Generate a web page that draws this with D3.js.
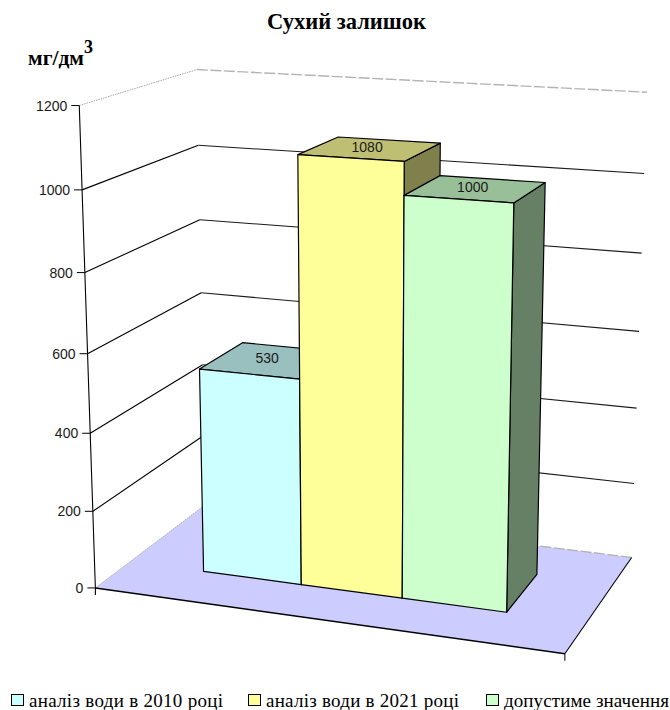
<!DOCTYPE html>
<html lang="uk">
<head>
<meta charset="utf-8">
<title>Сухий залишок</title>
<script src="https://cdn.jsdelivr.net/npm/d3@7"></script>
<style>
  html, body { margin: 0; padding: 0; background: #fff; }
  svg { display: block; }
</style>
</head>
<body>
<svg id="chart" width="670" height="710"></svg>
<script>
// Chart content
const chartTitle = "Сухий залишок";
const unitLabel = "мг/дм";
const unitPower = "3";
const seriesNames = ["аналіз води в 2010 році", "аналіз води в 2021 році", "допустиме значення"];
const seriesValues = [530, 1080, 1000];
const seriesFront = ["#CCFFFF", "#FFFF99", "#CCFFCC"];
const seriesTop = ["#99BFBF", "#BFBF73", "#99BF99"];
const seriesSide = ["#668080", "#80804D", "#668066"];
const valueTicks = [0, 200, 400, 600, 800, 1000, 1200];

const svg = d3.select("#chart");

// Box coordinates: x and z run 0..1, the value axis runs through a scale.
const yUnit = d3.scaleLinear().domain([0, 1200]).range([0, 1]);
const xBand = d3.scaleBand().domain(seriesNames).range([0.171, 0.836]);
const BAR_NEAR = 0.295, BAR_FAR = 0.70;

// Where the box edges fall on the page: [x, value, z, pageX, pageY].
const frameAnchors = [
  [0, 0, 0, 96, 588], [0, 200, 0, 92.5, 511], [0, 400, 0, 90, 433], [0, 600, 0, 87.5, 354],
  [0, 800, 0, 85, 272], [0, 1000, 0, 82, 190], [0, 1200, 0, 79, 106],
  [0, 0, 1, 205, 505], [0, 800, 1, 200, 220], [0, 1000, 1, 198.5, 145.5], [0, 1200, 1, 197, 69],
  [1, 0, 1, 632, 557], [1, 200, 1, 634, 484], [1, 400, 1, 636, 408], [1, 600, 1, 639, 331],
  [1, 800, 1, 642, 253], [1, 1000, 1, 644, 174], [1, 1200, 1, 647, 92],
  [1, 0, 0, 565, 654]
];

// Least-squares fit of a 3x4 camera matrix (bottom-right entry fixed at 1).
function fitCamera(anchors) {
  const n = 11;
  const A = d3.range(n).map(() => new Array(n + 1).fill(0));
  const addRow = (row, rhs) => {
    for (let i = 0; i < n; i++) {
      for (let j = 0; j < n; j++) A[i][j] += row[i] * row[j];
      A[i][n] += row[i] * rhs;
    }
  };
  anchors.forEach(([x, v, z, u, w]) => {
    const y = yUnit(v);
    addRow([x, y, z, 1, 0, 0, 0, 0, -u * x, -u * y, -u * z], u);
    addRow([0, 0, 0, 0, x, y, z, 1, -w * x, -w * y, -w * z], w);
  });
  for (let c = 0; c < n; c++) {
    let pivot = c;
    for (let r = c + 1; r < n; r++) if (Math.abs(A[r][c]) > Math.abs(A[pivot][c])) pivot = r;
    [A[c], A[pivot]] = [A[pivot], A[c]];
    for (let r = 0; r < n; r++) {
      if (r === c) continue;
      const f = A[r][c] / A[c][c];
      for (let k = c; k <= n; k++) A[r][k] -= f * A[c][k];
    }
  }
  return A.map((row, i) => row[n] / row[i]);
}

const cam = fitCamera(frameAnchors);
function project(x, value, z) {
  const y = yUnit(value);
  const d = cam[8] * x + cam[9] * y + cam[10] * z + 1;
  return [
    (cam[0] * x + cam[1] * y + cam[2] * z + cam[3]) / d,
    (cam[4] * x + cam[5] * y + cam[6] * z + cam[7]) / d
  ];
}

const polyline = d3.line();
const closedPath = pts => polyline(pts) + "Z";

// Floor
svg.append("path")
  .attr("d", closedPath([project(0, 0, 0), project(1, 0, 0), project(1, 0, 1), project(0, 0, 1)]))
  .attr("fill", "#CCCCFF");

// Gridlines on the left and back walls; the outer ones are drawn in grey.
const gridLayer = svg.append("g").attr("fill", "none");
valueTicks.forEach(v => {
  const muted = v === 1200 || v === 0;
  gridLayer.append("path")
    .attr("d", polyline([project(0, v, 0), project(0, v, 1)]))
    .attr("stroke", muted ? "#a8a8a8" : "#000")
    .attr("stroke-width", muted ? 1 : 1.1)
    .attr("stroke-dasharray", muted ? "1.5 1" : null);
  gridLayer.append("path")
    .attr("d", polyline([project(0, v, 1), project(1, v, 1)]))
    .attr("stroke", muted ? "#b4b4b4" : "#1a1a1a")
    .attr("stroke-width", muted ? 1.4 : 1.1)
    .attr("stroke-dasharray", muted ? "11 2.5" : null);
});

// Axis frame
const frame = svg.append("g").attr("fill", "none").attr("stroke", "#000");
const [ax0, ay0] = project(0, 0, 0);
const [bx0, by0] = project(1, 0, 0);
frame.append("path").attr("d", polyline([project(1, 0, 0), project(1, 0, 1)])).attr("stroke-width", 1.1);
frame.append("path").attr("d", polyline([project(0, 0, 0), project(1, 0, 0)])).attr("stroke-width", 1.5);
frame.append("path").attr("d", polyline([project(0, 1200, 0), project(0, 0, 0), [ax0, ay0 + 7]])).attr("stroke-width", 1.1);
frame.append("path").attr("d", polyline([[bx0, by0], [bx0, by0 + 7]])).attr("stroke-width", 1);

const tickLayer = svg.append("g");
valueTicks.forEach(v => {
  const [tx, ty] = project(0, v, 0);
  tickLayer.append("path")
    .attr("d", polyline([[tx - 8, ty], [tx, ty]]))
    .attr("stroke", "#000").attr("fill", "none");
  tickLayer.append("text")
    .attr("x", tx - 12).attr("y", ty + 5)
    .attr("text-anchor", "end")
    .attr("font-family", "'Liberation Sans', Arial, sans-serif")
    .attr("font-size", 14).attr("fill", "#1a1a1a")
    .text(v);
});

// Bars, painted left to right so each front covers its neighbour's side.
const barLayer = svg.append("g").attr("stroke", "#000").attr("stroke-width", 1.2).attr("stroke-linejoin", "round");
seriesNames.forEach((name, i) => {
  const x0 = xBand(name), x1 = x0 + xBand.bandwidth(), v = seriesValues[i];
  const g = barLayer.append("g");
  g.append("path").attr("fill", seriesSide[i]).attr("d", closedPath([
    project(x1, 0, BAR_NEAR), project(x1, 0, BAR_FAR), project(x1, v, BAR_FAR), project(x1, v, BAR_NEAR)]));
  g.append("path").attr("fill", seriesTop[i]).attr("d", closedPath([
    project(x0, v, BAR_NEAR), project(x1, v, BAR_NEAR), project(x1, v, BAR_FAR), project(x0, v, BAR_FAR)]));
  g.append("path").attr("fill", seriesFront[i]).attr("d", closedPath([
    project(x0, 0, BAR_NEAR), project(x1, 0, BAR_NEAR), project(x1, v, BAR_NEAR), project(x0, v, BAR_NEAR)]));
});

// Value labels sit on each bar's top face.
seriesNames.forEach((name, i) => {
  const xm = xBand(name) + xBand.bandwidth() / 2;
  const [lx, ly] = project(xm, seriesValues[i], (BAR_NEAR + BAR_FAR) / 2);
  svg.append("text")
    .attr("x", lx - 3).attr("y", ly + 3)
    .attr("text-anchor", "middle")
    .attr("font-family", "'Liberation Sans', Arial, sans-serif")
    .attr("font-size", 14).attr("fill", "#1a1a1a")
    .text(seriesValues[i]);
});

// Title and unit
const serif = "'Liberation Serif', 'Times New Roman', serif";
svg.append("text")
  .attr("x", 346.5).attr("y", 29)
  .attr("text-anchor", "middle")
  .attr("font-family", serif).attr("font-weight", "bold").attr("font-size", 22.5).attr("fill", "#000")
  .text(chartTitle);
const unit = svg.append("text")
  .attr("x", 28).attr("y", 65)
  .attr("font-family", serif).attr("font-weight", "bold").attr("font-size", 21.5).attr("fill", "#000");
unit.append("tspan").text(unitLabel);
unit.append("tspan").attr("dy", -12).attr("font-size", 18).text(unitPower);

// Legend along the bottom edge
const legendSwatchX = [11, 248, 486];
const legendTextWidth = [194, 193, 165];
const legend = svg.append("g");
seriesNames.forEach((name, i) => {
  legend.append("rect")
    .attr("x", legendSwatchX[i] + 0.5).attr("y", 694.5)
    .attr("width", 12).attr("height", 11)
    .attr("fill", seriesFront[i]).attr("stroke", "#000").attr("stroke-width", 1);
  legend.append("text")
    .attr("x", legendSwatchX[i] + 18).attr("y", 707)
    .attr("font-family", serif).attr("font-size", 19).attr("fill", "#000")
    .attr("textLength", legendTextWidth[i])
    .text(name);
});
</script>
</body>
</html>
